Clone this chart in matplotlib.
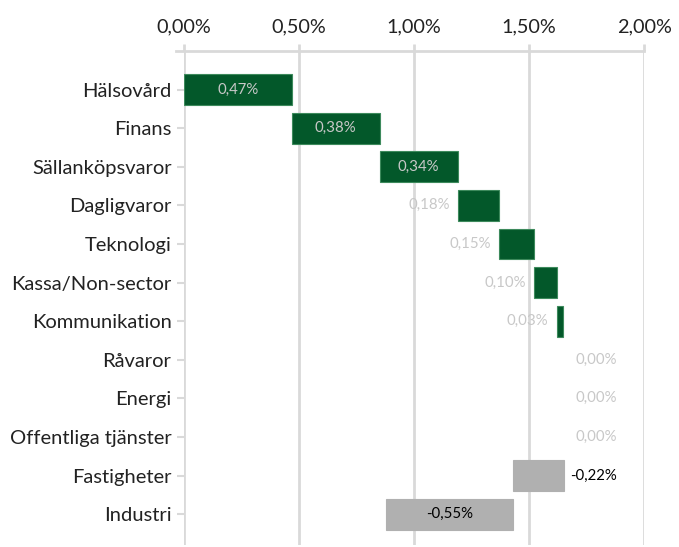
import matplotlib
matplotlib.use("Agg")
import matplotlib.pyplot as plt
import numpy as np

plt.rcParams['font.family'] = ['Lato', 'DejaVu Sans']

# Bidrag per sektor (procentenheter)
sectors = ['Hälsovård', 'Finans', 'Sällanköpsvaror', 'Dagligvaror', 'Teknologi',
           'Kassa/Non-sector', 'Kommunikation', 'Råvaror', 'Energi',
           'Offentliga tjänster', 'Fastigheter', 'Industri']
values = [0.47, 0.38, 0.34, 0.18, 0.15, 0.10, 0.03, 0.00, 0.00, 0.00, -0.22, -0.55]
xticks = [0.0, 0.5, 1.0, 1.5, 2.0]

green = '#03582a'
grey_bar = '#b0b0b0'
light_txt = '#c8c8c8'

values = np.array(values)
ends = np.cumsum(values)
starts = ends - values
y = np.arange(len(sectors))

fig = plt.figure(figsize=(6.79, 5.47), dpi=100)
ax = fig.add_axes([184/679, 2/547, (644-184)/679, (545-51)/547])

colors = [green if v > 0 else grey_bar for v in values]
edges = [('#3d8a5c' if v > 0 else grey_bar) if v != 0 else 'none' for v in values]
ax.barh(y, values, left=starts, height=0.8, color=colors,
        edgecolor=edges, linewidth=0.8, zorder=3)

def fmt(v):
    return ('%.2f%%' % v).replace('.', ',')

lab_fs = 10.8
for i, v in enumerate(values):
    lo, hi = min(starts[i], ends[i]), max(starts[i], ends[i])
    if v >= 0.3:
        ax.text((lo + hi) / 2, i, fmt(v), ha='center', va='center', color=light_txt, fontsize=lab_fs, zorder=4)
    elif v > 0:
        ax.text(lo - 0.035, i, fmt(v), ha='right', va='center', color=light_txt, fontsize=lab_fs, zorder=4)
    elif v == 0:
        ax.text(hi + 0.05, i, fmt(v), ha='left', va='center', color=light_txt, fontsize=lab_fs, zorder=4)
    elif v > -0.3:
        ax.text(hi + 0.03, i, fmt(v), ha='left', va='center', color='black', fontsize=lab_fs, zorder=4)
    else:
        ax.text((lo + hi) / 2, i, fmt(v), ha='center', va='center', color='black', fontsize=lab_fs, zorder=4)

ax.set_xlim(0, 2.0)
ax.set_ylim(11.8, -1.0)
ax.xaxis.tick_top()
ax.set_xticks(xticks)
ax.set_xticklabels([fmt(t) for t in xticks], fontsize=14.3, color='#222222')
ax.set_yticks(y)
ax.set_yticklabels(sectors, fontsize=14.5, color='#222222')
ax.tick_params(axis='x', length=5, width=2, color='#d9d9d9', pad=6)
ax.tick_params(axis='y', length=5, width=1.5, color='#d9d9d9', pad=4)

ax.grid(axis='x', color='#d9d9d9', linewidth=2, zorder=0)
for s in ['left', 'right', 'bottom']:
    ax.spines[s].set_visible(False)
ax.spines['top'].set_color('#d9d9d9')
ax.spines['top'].set_linewidth(2)
ax.spines['top'].set_bounds(-0.035, 2.0)

fig.savefig('out.png', dpi=100)
